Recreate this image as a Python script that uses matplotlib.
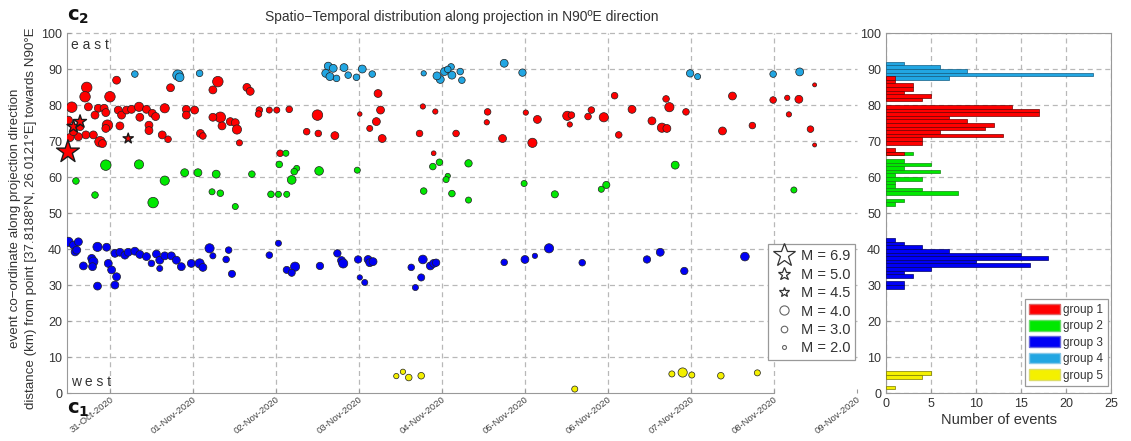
"""
Spatio-temporal plot of the aftershock sequence projected on the N90E line,
with a per-group histogram of the projected distances on the right.
"""

import matplotlib

matplotlib.use("Agg")
import matplotlib.pyplot as plt
import numpy as np
import pandas as pd
from matplotlib.lines import Line2D
from matplotlib.patches import Patch

plt.rcParams["font.family"] = ["Liberation Sans", "DejaVu Sans"]

# time: days after 31-Oct-2020 00:00, km: distance along N90E, mag: magnitude
red_t = [-0.46, -0.50, -0.28, -0.30, -0.26, -0.14, -0.18, -0.07, -0.05, 0.00,
         0.08, -0.03, -0.05, -0.12, -0.09, -0.20, -0.29, -0.38, -0.48, -0.36,
         -0.44, 0.12, 0.10, 0.14, 0.20, 0.26, 0.35, 0.44, 0.36, 0.47,
         0.47, 0.51, 0.55, 0.66, 0.63, 0.70, 0.73, 0.92, 1.02, 0.92,
         1.09, 1.12, 1.30, 1.24, 1.33, 1.24, 1.35, 1.45, 1.51, 1.53,
         1.56, 1.65, 1.69, 1.80, 1.79, 1.92, 2.01, 2.16, 2.05, 2.37,
         2.50, 2.51, 2.71, 3.01, 3.23, 3.26, 3.21, 3.13, 3.28, 3.77,
         3.92, 3.73, 4.17, 3.90, 4.55, 4.54, 4.73, 5.01, 5.15, 5.09,
         5.51, 5.56, 5.54, 5.76, 5.80, 5.95, 6.08, 6.13, 6.29, 6.53,
         6.65, 6.71, 6.70, 6.74, 6.94, 7.50, 7.38, 7.74, 7.99, 8.16,
         8.30, 8.18, 8.44, 8.49, 8.49]
red_km = [79.4, 75.8, 84.9, 82.3, 79.5, 79.1, 77.2, 79.1, 77.9, 82.3,
          86.9, 74.4, 73.5, 69.8, 69.3, 71.7, 71.7, 71.2, 71.0, 74.0,
          72.6, 74.2, 78.6, 77.2, 78.6, 78.8, 79.5, 78.8, 76.6, 74.4,
          72.9, 77.7, 76.8, 79.1, 71.7, 70.5, 84.8, 78.8, 78.6, 77.2,
          72.1, 71.4, 86.5, 84.2, 76.6, 76.6, 74.2, 75.4, 75.1, 73.2,
          69.5, 84.9, 83.8, 78.6, 77.5, 78.6, 78.6, 78.8, 66.6, 72.6,
          77.2, 72.1, 71.5, 77.5, 83.2, 78.6, 75.4, 73.5, 70.7, 79.6,
          78.2, 72.1, 72.1, 66.6, 78.1, 75.2, 70.7, 77.9, 76.0, 69.5,
          77.0, 77.2, 74.6, 76.8, 78.6, 76.6, 82.6, 71.7, 78.8, 75.6,
          73.7, 73.5, 81.7, 79.4, 78.1, 82.5, 72.8, 74.3, 81.4, 82.0,
          81.6, 77.4, 73.3, 85.6, 68.9]
red_mag = [4.5, 3.5, 4.5, 4.5, 3.5, 3.5, 3.5, 3.5, 3.5, 4.5,
           3.5, 4.5, 3.5, 4.5, 3.5, 3.5, 3.5, 3.5, 3.5, 3.5,
           3.5, 3.5, 3.5, 3.5, 3.5, 3.5, 4.0, 3.5, 3.5, 3.5,
           3.5, 3.5, 3.5, 4.0, 3.5, 3.0, 3.5, 3.5, 3.5, 3.5,
           3.5, 3.0, 4.5, 3.5, 4.5, 3.5, 3.5, 3.5, 3.5, 4.0,
           2.8, 3.5, 3.5, 3.0, 3.0, 2.8, 2.8, 3.0, 3.0, 3.0,
           4.5, 3.0, 3.5, 2.2, 3.5, 3.5, 3.5, 2.8, 3.5, 2.5,
           2.5, 3.0, 3.0, 2.3, 3.0, 2.5, 3.5, 2.5, 3.5, 4.0,
           4.0, 3.0, 2.5, 3.0, 3.0, 4.0, 3.0, 3.0, 3.5, 3.5,
           4.0, 3.5, 3.0, 4.0, 3.0, 3.5, 3.5, 3.0, 3.0, 2.5,
           3.5, 2.5, 3.0, 2.0, 2.0]

# events with M >= 4.5 (group 1), drawn as stars
star_t = [-0.506, -0.44, -0.36, 0.22]
star_km = [67.0, 74.0, 75.4, 70.7]
star_mag = [6.9, 5.0, 5.0, 4.5]

green_t = [-0.41, -0.05, -0.18, 0.35, 0.52, 0.66, 0.90, 1.06, 1.28, 1.23,
           1.33, 1.51, 1.71, 1.94, 2.03, 2.13, 2.04, 2.12, 2.25, 2.22,
           2.19, 2.52, 2.98, 3.89, 3.97, 4.07, 4.05, 3.78, 4.12, 4.32,
           4.32, 4.99, 5.36, 5.98, 5.92, 6.81, 8.24]
green_km = [58.9, 63.3, 55.0, 63.5, 52.9, 59.0, 61.2, 61.2, 60.8, 55.9,
            55.5, 51.8, 60.8, 55.2, 55.2, 55.2, 63.5, 66.6, 62.4, 61.5,
            59.2, 61.7, 61.9, 62.9, 64.1, 60.3, 59.3, 56.1, 55.4, 63.8,
            53.6, 58.2, 55.2, 57.8, 56.6, 63.3, 56.4]
green_mag = [3.0, 4.5, 3.0, 4.0, 4.5, 4.0, 3.5, 3.5, 3.5, 2.8,
             3.0, 2.8, 3.0, 3.0, 2.8, 2.8, 3.0, 2.8, 2.8, 3.0,
             3.8, 3.8, 2.8, 3.0, 3.0, 2.5, 2.8, 3.0, 3.0, 3.3,
             2.8, 2.8, 3.2, 3.2, 2.8, 3.5, 2.8]

blue_t = [-0.50, -0.44, -0.38, -0.42, -0.40, -0.32, -0.22, -0.20, -0.21, -0.15,
          -0.15, -0.04, -0.02, 0.02, 0.06, 0.08, 0.06, 0.12, 0.18, 0.22,
          0.30, 0.36, 0.44, 0.50, 0.56, 0.60, 0.60, 0.66, 0.74, 0.80,
          0.86, 0.98, 1.08, 1.12, 1.20, 1.24, 1.43, 1.40, 1.47, 1.92,
          2.03, 2.13, 2.23, 2.19, 2.53, 2.74, 2.79, 2.81, 2.99, 3.01,
          3.07, 3.11, 3.13, 3.17, 3.63, 3.77, 3.86, 3.90, 3.93, 3.75,
          3.68, 4.75, 5.00, 5.12, 5.29, 5.69, 6.47, 6.63, 6.92, 7.65]
blue_km = [42.0, 41.1, 42.0, 39.2, 39.7, 35.3, 37.4, 36.5, 35.1, 29.7,
           40.6, 40.5, 36.0, 34.2, 30.0, 32.3, 38.8, 39.1, 38.3, 39.1,
           39.4, 38.5, 37.9, 36.0, 38.6, 36.9, 34.6, 38.1, 38.1, 36.9,
           35.1, 36.0, 36.0, 34.9, 40.2, 38.1, 39.7, 37.1, 33.1, 38.3,
           41.6, 34.2, 35.1, 33.4, 35.3, 38.8, 36.8, 36.0, 37.1, 32.1,
           30.7, 37.1, 36.2, 36.5, 34.9, 37.1, 35.3, 36.0, 36.2, 32.1,
           29.3, 36.3, 37.1, 38.1, 40.2, 36.2, 37.1, 39.1, 33.9, 37.9]
blue_mag = [4.0, 3.5, 3.5, 3.5, 3.5, 3.5, 3.5, 4.0, 3.5, 3.5,
            4.0, 3.5, 3.5, 3.5, 3.5, 3.5, 3.5, 3.5, 3.5, 3.5,
            3.5, 3.5, 3.5, 3.0, 3.5, 3.5, 2.8, 3.5, 3.5, 3.5,
            3.5, 3.5, 4.0, 3.5, 4.0, 2.8, 3.0, 3.0, 3.2, 3.0,
            2.8, 3.2, 4.0, 3.2, 3.3, 3.3, 3.5, 4.0, 3.3, 2.5,
            2.8, 3.5, 3.5, 3.5, 3.0, 3.8, 3.5, 3.5, 3.3, 3.2,
            2.8, 3.0, 3.5, 2.5, 4.0, 3.0, 3.3, 3.5, 3.3, 3.8]

sky_t = [0.30, 0.82, 0.84, 1.08, 2.63, 2.69, 2.60, 2.65, 2.73, 2.82,
         2.87, 2.97, 3.04, 3.16, 3.78, 3.98, 4.03, 4.11, 4.12, 4.22,
         4.24, 3.94, 4.07, 4.75, 4.97, 6.99, 7.08, 7.99, 8.31]
sky_km = [88.6, 88.3, 87.7, 88.8, 90.8, 90.2, 88.8, 87.9, 87.4, 90.4,
          88.3, 87.7, 90.0, 88.6, 88.8, 87.1, 89.3, 90.6, 88.3, 89.3,
          86.9, 88.1, 89.9, 91.6, 89.0, 88.8, 87.9, 88.6, 89.2]
sky_mag = [3.0, 4.5, 3.8, 3.0, 3.5, 3.5, 3.5, 3.5, 3.0, 3.5,
           3.0, 3.0, 3.5, 3.0, 2.5, 3.5, 3.5, 3.0, 3.5, 3.0,
           3.0, 3.5, 3.0, 3.5, 3.3, 3.3, 2.8, 3.0, 3.5]

yellow_t = [3.45, 3.53, 3.60, 3.75, 5.60, 6.77, 6.90, 7.01, 7.36, 7.80]
yellow_km = [4.7, 5.9, 4.3, 4.8, 1.1, 5.3, 5.7, 5.0, 4.8, 5.6]
yellow_mag = [2.5, 2.5, 3.0, 3.0, 2.8, 2.8, 4.0, 2.8, 3.0, 2.8]

# histogram: lower edge of each 1 km bin and number of events in it
red_bins = [87, 86, 85, 84, 83, 82, 81, 79, 78, 77, 76, 75, 74, 73, 72, 71, 70, 69, 67, 66]
red_counts = [1, 1, 3, 3, 2, 5, 4, 14, 17, 17, 7, 9, 12, 11, 6, 13, 4, 4, 1, 2]
green_bins = [66, 64, 63, 62, 61, 60, 59, 58, 57, 56, 55, 53, 52]
green_counts = [3, 2, 5, 2, 6, 1, 4, 1, 1, 4, 8, 2, 1]
blue_bins = [42, 41, 40, 39, 38, 37, 36, 35, 34, 33, 32, 30, 29]
blue_counts = [1, 2, 4, 7, 15, 18, 10, 16, 5, 2, 3, 2, 2]
sky_bins = [91, 90, 89, 88, 87]
sky_counts = [2, 6, 9, 23, 7]
yellow_bins = [5, 4, 1]
yellow_counts = [5, 4, 1]

legend_mags = [6.9, 5.0, 4.5, 4.0, 3.0, 2.0]

RED = "#ff0000"
GREEN = "#00e800"
BLUE = "#0000f5"
SKY = "#22a6e2"
YELLOW = "#f4f000"
TXT = "#333333"
GRID = dict(color="#b8b8b8", linestyle=(0, (4, 3)), linewidth=0.9)


def circle_px(m):
    """Circle diameter in pixels for a magnitude."""
    return 2.6 * np.asarray(m, dtype=float) - 1.2


def star_px(m):
    """Star size in pixels for a magnitude."""
    return 5.5 * np.asarray(m, dtype=float) - 14.0


def to_area(px):
    """Scatter area (pt^2) from a pixel diameter at 100 dpi."""
    return (px * 0.72) ** 2


fig = plt.figure(figsize=(11.31, 4.41), dpi=100)
ax = fig.add_axes([0.0592, 0.1088, 0.6985, 0.8163])
axh = fig.add_axes([0.7834, 0.1088, 0.1989, 0.8163])

# --- time-distance scatter
for t, km, mag, col in [
    (red_t, red_km, red_mag, RED),
    (green_t, green_km, green_mag, GREEN),
    (blue_t, blue_km, blue_mag, BLUE),
    (sky_t, sky_km, sky_mag, SKY),
    (yellow_t, yellow_km, yellow_mag, YELLOW),
]:
    ax.scatter(t, km, s=to_area(circle_px(mag)), c=col, edgecolors="#202020",
               linewidths=0.5, zorder=3)
ax.scatter(star_t, star_km, s=to_area(star_px(star_mag)), marker="*", c=RED,
           edgecolors="#1a1a1a", linewidths=1.0, zorder=4, clip_on=False)

ax.set_xlim(-0.518, 9.0)
ax.set_ylim(0, 100)
ax.set_xticks(np.arange(10))
days = pd.date_range("2020-10-31", periods=10).strftime("%d-%b-%Y")
ax.set_xticklabels(days, rotation=38, ha="right", rotation_mode="anchor",
                   fontsize=6.8, color="#444444")
ax.set_yticks(np.arange(0, 101, 10))
ax.tick_params(axis="y", labelsize=9, labelcolor=TXT)
ax.tick_params(direction="in", length=3, color="#999999")
ax.tick_params(axis="x", pad=1.5)
for s in ["top", "right"]:
    ax.spines[s].set_visible(False)
for s in ["left", "bottom"]:
    ax.spines[s].set_color("#999999")
ax.spines["bottom"].set_bounds(-0.518, 8.0)
ax.set_axisbelow(True)
for xv in range(9):
    ax.axvline(xv, zorder=0, **GRID)
for yv in range(10, 101, 10):
    ax.axhline(yv, zorder=0, clip_on=False, **GRID)

ax.set_title("Spatio\u2212Temporal distribution along projection in N90\u00baE direction",
             fontsize=10, color=TXT, pad=9)
ax.text(0.005, 0.968, "e a s t", transform=ax.transAxes, fontsize=10,
        color=TXT, va="center", ha="left")
ax.text(0.005, 0.03, "w e s t", transform=ax.transAxes, fontsize=10,
        color=TXT, va="center", ha="left")
fig.text(0.059, 0.962, r"$\mathbf{c}_{\mathbf{2}}$", fontsize=14, color="#111111",
         ha="left", va="center")
fig.text(0.059, 0.070, r"$\mathbf{c}_{\mathbf{1}}$", fontsize=14, color="#111111",
         ha="left", va="center")
fig.text(0.020, 0.505,
         "event co\u2212ordinate along projection direction\n"
         "distance (km) from point [37.8188\u00b0N, 26.0121\u00b0E] towards N90\u00b0E",
         rotation=90, ha="center", va="center", fontsize=9.6, color=TXT,
         linespacing=1.45)

# magnitude key
handles = []
for m in legend_mags:
    if m >= 4.5:
        handles.append(Line2D([], [], ls="none", marker="*", mfc="white", mec="#333333",
                              mew=0.9, markersize=float(star_px(m)) * 0.72))
    else:
        handles.append(Line2D([], [], ls="none", marker="o", mfc="white", mec="#666666",
                              mew=0.8, markersize=float(circle_px(m)) * 0.72))
leg = ax.legend(handles, [f"M = {m:.1f}" for m in legend_mags], loc="upper left",
                bbox_to_anchor=(0.887, 0.413), fontsize=10.5, labelspacing=0.3,
                handlelength=1.6, handletextpad=0.3, borderpad=0.35,
                borderaxespad=0, fancybox=False, framealpha=1,
                edgecolor="#999999", labelcolor=TXT)
leg.get_frame().set_linewidth(0.9)

# --- histogram of distances per group
for bins, counts, col, edge in [
    (green_bins, green_counts, GREEN, "#118811"),
    (sky_bins, sky_counts, SKY, "#135f85"),
    (blue_bins, blue_counts, BLUE, "#000066"),
    (yellow_bins, yellow_counts, YELLOW, "#7a7a00"),
    (red_bins, red_counts, RED, "#700000"),
]:
    axh.barh(bins, counts, height=1.0, align="edge", color=col, edgecolor=edge,
             linewidth=0.5, zorder=3)

axh.set_xlim(0, 25)
axh.set_ylim(0, 100)
axh.set_xticks(np.arange(0, 26, 5))
axh.set_yticks(np.arange(0, 101, 10))
axh.tick_params(direction="in", length=3, color="#999999", labelsize=9,
                labelcolor=TXT)
for s in axh.spines.values():
    s.set_color("#999999")
axh.set_axisbelow(True)
axh.grid(True, **GRID)
axh.set_xlabel("Number of events", fontsize=10.5, color=TXT, labelpad=2)

group_patches = [
    Patch(facecolor=RED, edgecolor="#dd6666", label="group 1"),
    Patch(facecolor=GREEN, edgecolor="#66dd66", label="group 2"),
    Patch(facecolor=BLUE, edgecolor="#6666dd", label="group 3"),
    Patch(facecolor=SKY, edgecolor="#88c8e8", label="group 4"),
    Patch(facecolor=YELLOW, edgecolor="#dddd66", label="group 5"),
]
hleg = axh.legend(handles=group_patches, loc="lower right",
                  bbox_to_anchor=(0.985, 0.02), fontsize=8.5, labelspacing=0.35,
                  handlelength=2.6, handleheight=1.0, handletextpad=0.3,
                  borderpad=0.35, borderaxespad=0, fancybox=False, framealpha=1,
                  edgecolor="#999999", labelcolor=TXT)
hleg.get_frame().set_linewidth(0.9)

fig.savefig("out.png", dpi=100)
